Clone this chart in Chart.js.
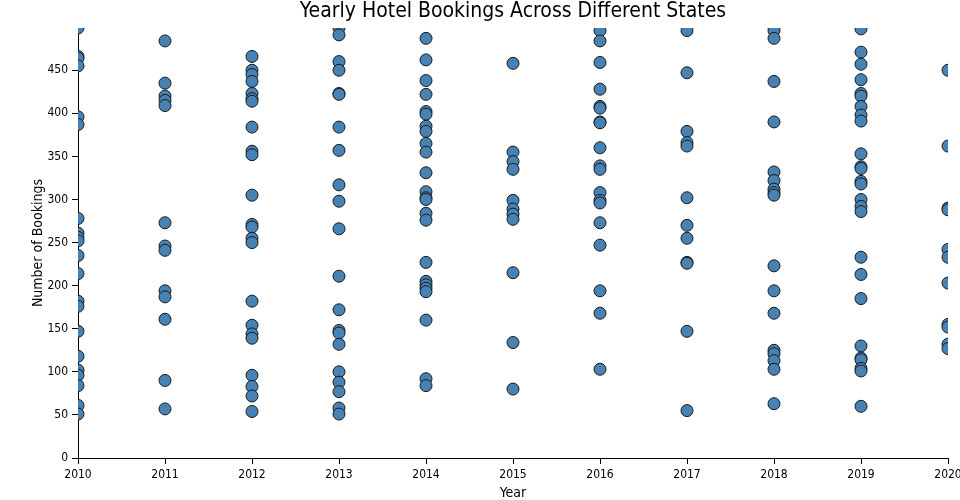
<!DOCTYPE html>
<html>
<head>
<meta charset="utf-8">
<script src="https://cdn.jsdelivr.net/npm/chart.js@4"></script>
<style>
  html, body { margin: 0; padding: 0; background: #fff; }
  #wrap { width: 960px; height: 500px; position: relative; }
</style>
</head>
<body>
<div id="wrap"><canvas id="bookingsChart" width="960" height="500"></canvas></div>
<script>
// Data, one list per year
const years = [2010, 2011, 2012, 2013, 2014, 2015, 2016, 2017, 2018, 2019, 2020];
const b2010 = [499, 466, 464, 455, 396, 387, 278, 261, 256, 252, 235, 214, 182, 176, 147, 118, 102, 96, 84, 61, 51];
const b2011 = [484, 435, 420, 415, 409, 273, 246, 241, 194, 187, 161, 90, 57];
const b2012 = [466, 450, 445, 437, 423, 417, 414, 384, 356, 352, 305, 271, 268, 255, 250, 182, 154, 144, 139, 96, 83, 72, 54];
const b2013 = [499, 491, 460, 450, 423, 422, 384, 357, 317, 298, 266, 211, 172, 148, 145, 132, 100, 88, 77, 58, 51];
const b2014 = [487, 462, 438, 422, 402, 399, 385, 379, 365, 355, 331, 309, 302, 300, 284, 276, 227, 205, 201, 197, 193, 160, 92, 84];
const b2015 = [458, 355, 344, 335, 299, 289, 283, 277, 215, 134, 80];
const b2016 = [496, 484, 459, 428, 408, 406, 390, 389, 360, 339, 335, 308, 299, 296, 273, 247, 194, 168, 103];
const b2017 = [496, 447, 379, 366, 362, 302, 270, 255, 227, 226, 147, 55];
const b2018 = [500, 496, 487, 437, 390, 332, 322, 312, 308, 305, 223, 194, 168, 125, 121, 113, 103, 63];
const b2019 = [498, 471, 457, 439, 423, 420, 408, 398, 391, 353, 338, 336, 321, 318, 300, 292, 286, 233, 213, 185, 130, 116, 114, 104, 101, 60];
const b2020 = [450, 362, 290, 288, 242, 233, 203, 155, 152, 132, 127];
const yTicks = [0, 50, 100, 150, 200, 250, 300, 350, 400, 450];

const byYear = [b2010, b2011, b2012, b2013, b2014, b2015, b2016, b2017, b2018, b2019, b2020];

const FONT = '"Liberation Sans Narrow", "DejaVu Sans Condensed", sans-serif';

// flatten into scatter points
const points = [];
years.forEach((yr, i) => {
    byYear[i].forEach(v => points.push({ x: yr, y: v }));
});

// title + axis titles drawn at fixed spots
const labelsPlugin = {
    id: 'labels',
    afterDraw(chart) {
        const { ctx, chartArea } = chart;
        const cx = (chartArea.left + chartArea.right) / 2;
        ctx.save();
        ctx.fillStyle = '#000';
        ctx.textAlign = 'center';
        ctx.textBaseline = 'alphabetic';
        ctx.font = '21px ' + FONT;
        ctx.fillText('Yearly Hotel Bookings Across Different States', cx, 17);

        ctx.font = '14px ' + FONT;
        ctx.textBaseline = 'middle';
        ctx.fillText('Year', cx, 493);

        ctx.translate(38, (chartArea.top + chartArea.bottom) / 2);
        ctx.rotate(-Math.PI / 2);
        ctx.fillText('Number of Bookings', 0, 0);
        ctx.restore();
    }
};

new Chart(document.getElementById('bookingsChart'), {
    type: 'scatter',
    data: {
        datasets: [{
            label: 'Bookings',
            data: points,
            backgroundColor: '#4682b4',
            borderColor: '#1a1a1a',
            borderWidth: 1,
            pointRadius: 6,
            pointHoverRadius: 6
        }]
    },
    options: {
        responsive: false,
        animation: false,
        devicePixelRatio: 1,
        layout: { padding: { top: 28, right: 12, left: 0, bottom: 0 } },
        plugins: {
            legend: { display: false },
            tooltip: { enabled: false }
        },
        scales: {
            x: {
                type: 'linear',
                min: 2010,
                max: 2020,
                afterFit: (scale) => {
                    scale.height = 42;
                    scale.paddingRight = 0;
                    scale.paddingLeft = 0;
                },
                ticks: {
                    stepSize: 1,
                    color: '#000',
                    font: { family: FONT, size: 12 },
                    padding: 4,
                    maxRotation: 0,
                    callback: (v) => String(v)
                },
                grid: { drawOnChartArea: false, color: '#000', tickLength: 6 },
                border: { color: '#000', width: 1 }
            },
            y: {
                min: 0,
                max: 499,
                afterFit: (scale) => { scale.width = 78; },
                afterBuildTicks: (scale) => {
                    scale.ticks = yTicks.map(v => ({ value: v }));
                },
                ticks: {
                    color: '#000',
                    font: { family: FONT, size: 12 },
                    padding: 4
                },
                grid: { drawOnChartArea: false, color: '#000', tickLength: 6 },
                border: { color: '#000', width: 1 }
            }
        }
    },
    plugins: [labelsPlugin]
});
</script>
</body>
</html>
